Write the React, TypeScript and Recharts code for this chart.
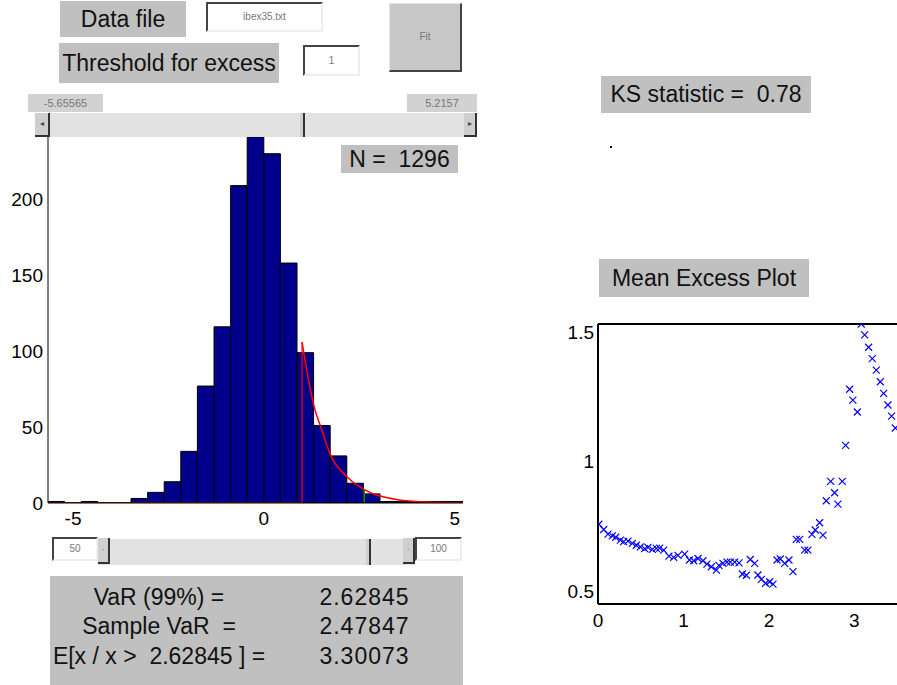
import React from "react";
import {
  ComposedChart,
  ScatterChart,
  Scatter,
  Line,
  XAxis,
  YAxis,
  ReferenceArea,
  ReferenceLine,
} from "recharts";

/* ================= HISTOGRAM DATA ================= */
const xMin = -5.65565;
const xMax = 5.2157;
const histCounts = [
  1, 0, 1, 0, 0, 3, 7, 14, 34, 77, 116, 209, 241, 230, 158, 99, 51, 31, 13, 6,
  1, 1, 1, 1, 1,
];
const histXTicks = [-5, 0, 5];
const histYTicks = [0, 50, 100, 150, 200];
const histYMax = 241;

// fitted tail density (scaled to counts), starts at the threshold
const threshold = 1;
const gpdX = [1, 1.14, 1.32, 1.49, 1.755, 2.19, 2.63, 3.07, 3.51, 4.21, 5.2157];
const gpdY = [106, 85, 63, 50, 31, 17, 8.8, 4.4, 2.2, 0.7, 0.1];
const varValue = 2.62845;
const varDensity = 8.8;

/* ================= MEAN EXCESS DATA ================= */
const meX = [
  0.01, 0.067, 0.117, 0.168, 0.207, 0.262, 0.3, 0.351, 0.402, 0.449, 0.496,
  0.546, 0.585, 0.636, 0.683, 0.722, 0.768, 0.83, 0.885, 0.936, 1.014, 1.07,
  1.12, 1.17, 1.228, 1.275, 1.326, 1.385, 1.415, 1.462, 1.509, 1.548, 1.599,
  1.65, 1.689, 1.736, 1.782, 1.833, 1.871, 1.911, 1.96, 2.008, 2.047, 2.094,
  2.133, 2.184, 2.234, 2.281, 2.32, 2.36, 2.418, 2.456, 2.503, 2.542, 2.593,
  2.632, 2.671, 2.722, 2.768, 2.807, 2.858, 2.897, 2.944, 2.982, 3.034, 3.08,
  3.12, 3.166, 3.209, 3.256, 3.303, 3.342, 3.392, 3.435, 3.478,
];
const meY = [
  0.758, 0.738, 0.72, 0.713, 0.708, 0.697, 0.691, 0.693, 0.684, 0.677, 0.671,
  0.664, 0.669, 0.661, 0.665, 0.666, 0.658, 0.635, 0.63, 0.638, 0.643, 0.62,
  0.617, 0.626, 0.617, 0.604, 0.594, 0.581, 0.599, 0.607, 0.612, 0.612, 0.612,
  0.609, 0.566, 0.561, 0.622, 0.607, 0.562, 0.545, 0.53, 0.536, 0.527, 0.62,
  0.624, 0.607, 0.62, 0.575, 0.7, 0.7, 0.658, 0.658, 0.719, 0.736, 0.764,
  0.716, 0.849, 0.924, 0.88, 0.836, 0.924, 1.063, 1.28, 1.238, 1.192, 1.532,
  1.49, 1.442, 1.398, 1.354, 1.309, 1.264, 1.219, 1.176, 1.13,
];
const meXTicks = [0, 1, 2, 3];
const meYTicks = [0.5, 1, 1.5];

/* ================= DERIVED ================= */
const binWidth = (xMax - xMin) / histCounts.length;
const bins = histCounts.map((count, i) => ({
  x1: xMin + i * binWidth,
  x2: xMin + (i + 1) * binWidth,
  count,
}));
const gpdData = gpdX.map((x, i) => ({ x, y: gpdY[i] }));
const baseData = [
  { x: xMin, y: 0 },
  { x: threshold, y: 0 },
];
const meData = meX.map((x, i) => ({ x, y: meY[i] }));

/* ================= STYLES ================= */
const FONT = '"Liberation Sans", Arial, Helvetica, sans-serif';
const GREY = "#c0c0c0";
const tickStyle = { fill: "#000", fontSize: 19, fontFamily: FONT };

const abs = (left: number, top: number, width: number, height: number) =>
  ({ position: "absolute", left, top, width, height, boxSizing: "border-box" } as React.CSSProperties);

function Label({ box, text, size = 23 }: { box: number[]; text: string; size?: number }) {
  const [l, t, w, h] = box;
  return (
    <div
      style={{
        ...abs(l, t, w, h),
        background: GREY,
        fontSize: size,
        lineHeight: `${h}px`,
        textAlign: "center",
        whiteSpace: "pre",
        color: "#111",
      }}
    >
      {text}
    </div>
  );
}

function Edit({ box, text }: { box: number[]; text: string }) {
  const [l, t, w, h] = box;
  return (
    <div
      style={{
        ...abs(l, t, w, h),
        background: "#fff",
        borderTop: "2px solid #444",
        borderLeft: "2px solid #444",
        borderRight: "2px solid #eee",
        borderBottom: "2px solid #eee",
        fontSize: 10,
        color: "#777",
        lineHeight: `${h - 4}px`,
        textAlign: "center",
      }}
    >
      {text}
    </div>
  );
}

function ArrowBtn({ box, dir }: { box: number[]; dir: string }) {
  const [l, t, w, h] = box;
  return (
    <div
      style={{
        ...abs(l, t, w, h),
        background: "#cfcfcf",
        borderRight: "2px solid #333",
        borderBottom: "2px solid #333",
        fontSize: 8,
        color: "#444",
        lineHeight: `${h - 2}px`,
        textAlign: "center",
      }}
    >
      {dir}
    </div>
  );
}

function Slider({ box, thumb }: { box: number[]; thumb: number }) {
  const [l, t, w, h] = box;
  return (
    <div style={{ ...abs(l, t, w, h), background: "#e2e2e2" }}>
      <div style={{ ...abs(thumb - l, 0, 5, h), background: "#cfcfcf", borderRight: "2px solid #333" }} />
    </div>
  );
}

const Cross = (props: any) => {
  const { cx, cy } = props;
  const r = 3.5;
  return (
    <path
      d={`M${cx - r},${cy - r}L${cx + r},${cy + r}M${cx - r},${cy + r}L${cx + r},${cy - r}`}
      stroke="#0000ff"
      strokeWidth={1.2}
      fill="none"
    />
  );
};

/* ================= HISTOGRAM ================= */
function Histogram() {
  return (
    <ComposedChart width={470} height={400} margin={{ top: 7, right: 7, bottom: 0, left: 0 }}>
      {bins
        .filter((b) => b.count > 0)
        .map((b, i) => (
          <ReferenceArea
            key={i}
            x1={b.x1}
            x2={b.x2}
            y1={0}
            y2={b.count}
            fill="#00008b"
            fillOpacity={1}
            stroke="#000"
            strokeWidth={1}
            ifOverflow="hidden"
          />
        ))}
      <XAxis
        type="number"
        dataKey="x"
        domain={[xMin, xMax]}
        ticks={histXTicks}
        allowDataOverflow
        height={27}
        tickLine={false}
        tickSize={0}
        tickMargin={9}
        axisLine={{ stroke: "#000" }}
        tick={tickStyle}
      />
      <YAxis
        type="number"
        dataKey="y"
        domain={[0, histYMax]}
        ticks={histYTicks}
        allowDataOverflow
        width={48}
        tickLine={false}
        tickSize={0}
        tickMargin={5}
        axisLine={{ stroke: "#000" }}
        tick={tickStyle}
      />
      <Line
        data={baseData}
        dataKey="y"
        type="linear"
        stroke="#a00000"
        strokeWidth={2}
        dot={false}
        isAnimationActive={false}
      />
      <ReferenceLine
        segment={[
          { x: threshold, y: 0 },
          { x: threshold, y: gpdY[0] },
        ]}
        stroke="#ff0000"
        strokeWidth={1.2}
      />
      <ReferenceLine
        segment={[
          { x: varValue, y: 0 },
          { x: varValue, y: varDensity },
        ]}
        stroke="#00a000"
        strokeWidth={1.5}
      />
      <Line
        data={gpdData}
        dataKey="y"
        type="monotone"
        stroke="#ff0000"
        strokeWidth={1.5}
        dot={false}
        isAnimationActive={false}
      />
    </ComposedChart>
  );
}

/* ================= MEAN EXCESS PLOT ================= */
function MeanExcess() {
  const xDomain = [0, 3.51];
  const yDomain = [0.45, 1.532];
  return (
    <ScatterChart width={338} height={334} margin={{ top: 24, right: 0, bottom: 0, left: 0 }}>
      <XAxis
        xAxisId="b"
        type="number"
        dataKey="x"
        domain={xDomain}
        ticks={meXTicks}
        allowDataOverflow
        height={30}
        tickLine={false}
        tickSize={0}
        tickMargin={10}
        axisLine={{ stroke: "#000", strokeWidth: 2 }}
        tick={tickStyle}
      />
      <XAxis
        xAxisId="t"
        orientation="top"
        mirror
        type="number"
        domain={xDomain}
        ticks={meXTicks}
        allowDataOverflow
        tick={false}
        tickSize={4}
        tickLine={{ stroke: "#000" }}
        axisLine={{ stroke: "#000", strokeWidth: 2 }}
      />
      <XAxis
        xAxisId="bi"
        mirror
        type="number"
        domain={xDomain}
        ticks={meXTicks}
        allowDataOverflow
        tick={false}
        tickSize={4}
        tickLine={{ stroke: "#000" }}
        axisLine={false}
      />
      <YAxis
        yAxisId="l"
        type="number"
        dataKey="y"
        domain={yDomain}
        ticks={meYTicks}
        allowDataOverflow
        width={38}
        tickLine={false}
        tickSize={0}
        tickMargin={4}
        axisLine={{ stroke: "#000", strokeWidth: 2 }}
        tick={tickStyle}
      />
      <YAxis
        yAxisId="li"
        mirror
        type="number"
        domain={yDomain}
        ticks={meYTicks}
        allowDataOverflow
        tick={false}
        tickSize={4}
        tickLine={{ stroke: "#000" }}
        axisLine={false}
      />
      <YAxis
        yAxisId="r"
        orientation="right"
        mirror
        type="number"
        domain={yDomain}
        ticks={meYTicks}
        allowDataOverflow
        tick={false}
        tickSize={4}
        tickLine={{ stroke: "#000" }}
        axisLine={{ stroke: "#000", strokeWidth: 2 }}
      />
      <Scatter
        xAxisId="b"
        yAxisId="l"
        data={meData}
        shape={Cross}
        isAnimationActive={false}
      />
    </ScatterChart>
  );
}

/* ================= PAGE ================= */
export default function App() {
  return (
    <div
      style={{
        position: "relative",
        width: 897,
        height: 685,
        overflow: "hidden",
        background: "#fff",
        fontFamily: FONT,
      }}
    >
      <style>{"body{margin:0;overflow:hidden}"}</style>

      {/* -------- file / threshold controls -------- */}
      <Label box={[60, 1, 126, 36]} text="Data file" />
      <Edit box={[206, 2, 117, 30]} text="ibex35.txt" />
      <Label box={[59, 43, 220, 40]} text="Threshold for excess" />
      <Edit box={[303, 45, 57, 31]} text="1" />
      <div
        style={{
          ...abs(389, 3, 73, 69),
          background: "#c8c8c8",
          borderTop: "1px solid #e6e6e6",
          borderLeft: "1px solid #e6e6e6",
          borderRight: "2px solid #444",
          borderBottom: "2px solid #444",
          fontSize: 10,
          color: "#777",
          lineHeight: "66px",
          textAlign: "center",
        }}
      >
        Fit
      </div>

      {/* -------- range slider -------- */}
      <div style={{ ...abs(28, 94, 75, 18), background: "#d2d2d2", fontSize: 11, color: "#777", lineHeight: "18px", textAlign: "center" }}>
        -5.65565
      </div>
      <div style={{ ...abs(407, 94, 70, 18), background: "#d2d2d2", fontSize: 11, color: "#777", lineHeight: "18px", textAlign: "center" }}>
        5.2157
      </div>
      <Slider box={[35, 113, 442, 24]} thumb={300} />
      <ArrowBtn box={[35, 113, 15, 24]} dir="◂" />
      <ArrowBtn box={[464, 113, 13, 24]} dir="▸" />

      {/* -------- histogram -------- */}
      <div style={abs(0, 130, 470, 400)}>
        <Histogram />
      </div>
      <Label box={[341, 145, 117, 28]} text="N =  1296" />

      {/* -------- percentile slider -------- */}
      <Edit box={[52, 537, 46, 24]} text="50" />
      <Slider box={[98, 539, 317, 26]} thumb={366} />
      <ArrowBtn box={[98, 538, 12, 26]} dir="·" />
      <ArrowBtn box={[403, 538, 12, 26]} dir="·" />
      <Edit box={[415, 537, 47, 24]} text="100" />

      {/* -------- results -------- */}
      <div style={{ ...abs(50, 576, 413, 109), background: GREY, fontSize: 23, color: "#111", whiteSpace: "pre" }}>
        {[
          ["VaR (99%) =", "2.62845", 8],
          ["Sample VaR  =", "2.47847", 37],
          ["E[x / x >  2.62845 ] =", "3.30073", 67],
        ].map(([lbl, val, top]) => (
          <React.Fragment key={lbl as string}>
            <div style={{ position: "absolute", left: -8, width: 234, top: top as number, textAlign: "center" }}>{lbl}</div>
            <div style={{ position: "absolute", left: 267, width: 95, top: top as number, textAlign: "center", letterSpacing: 1 }}>{val}</div>
          </React.Fragment>
        ))}
      </div>

      {/* -------- right panel -------- */}
      <Label box={[601, 76, 210, 37]} text="KS statistic =  0.78" />
      <div style={{ ...abs(610, 146, 2, 2), background: "#000" }} />
      <Label box={[599, 259, 210, 38]} text="Mean Excess Plot" />
      <div style={abs(560, 300, 338, 334)}>
        <MeanExcess />
      </div>
    </div>
  );
}
